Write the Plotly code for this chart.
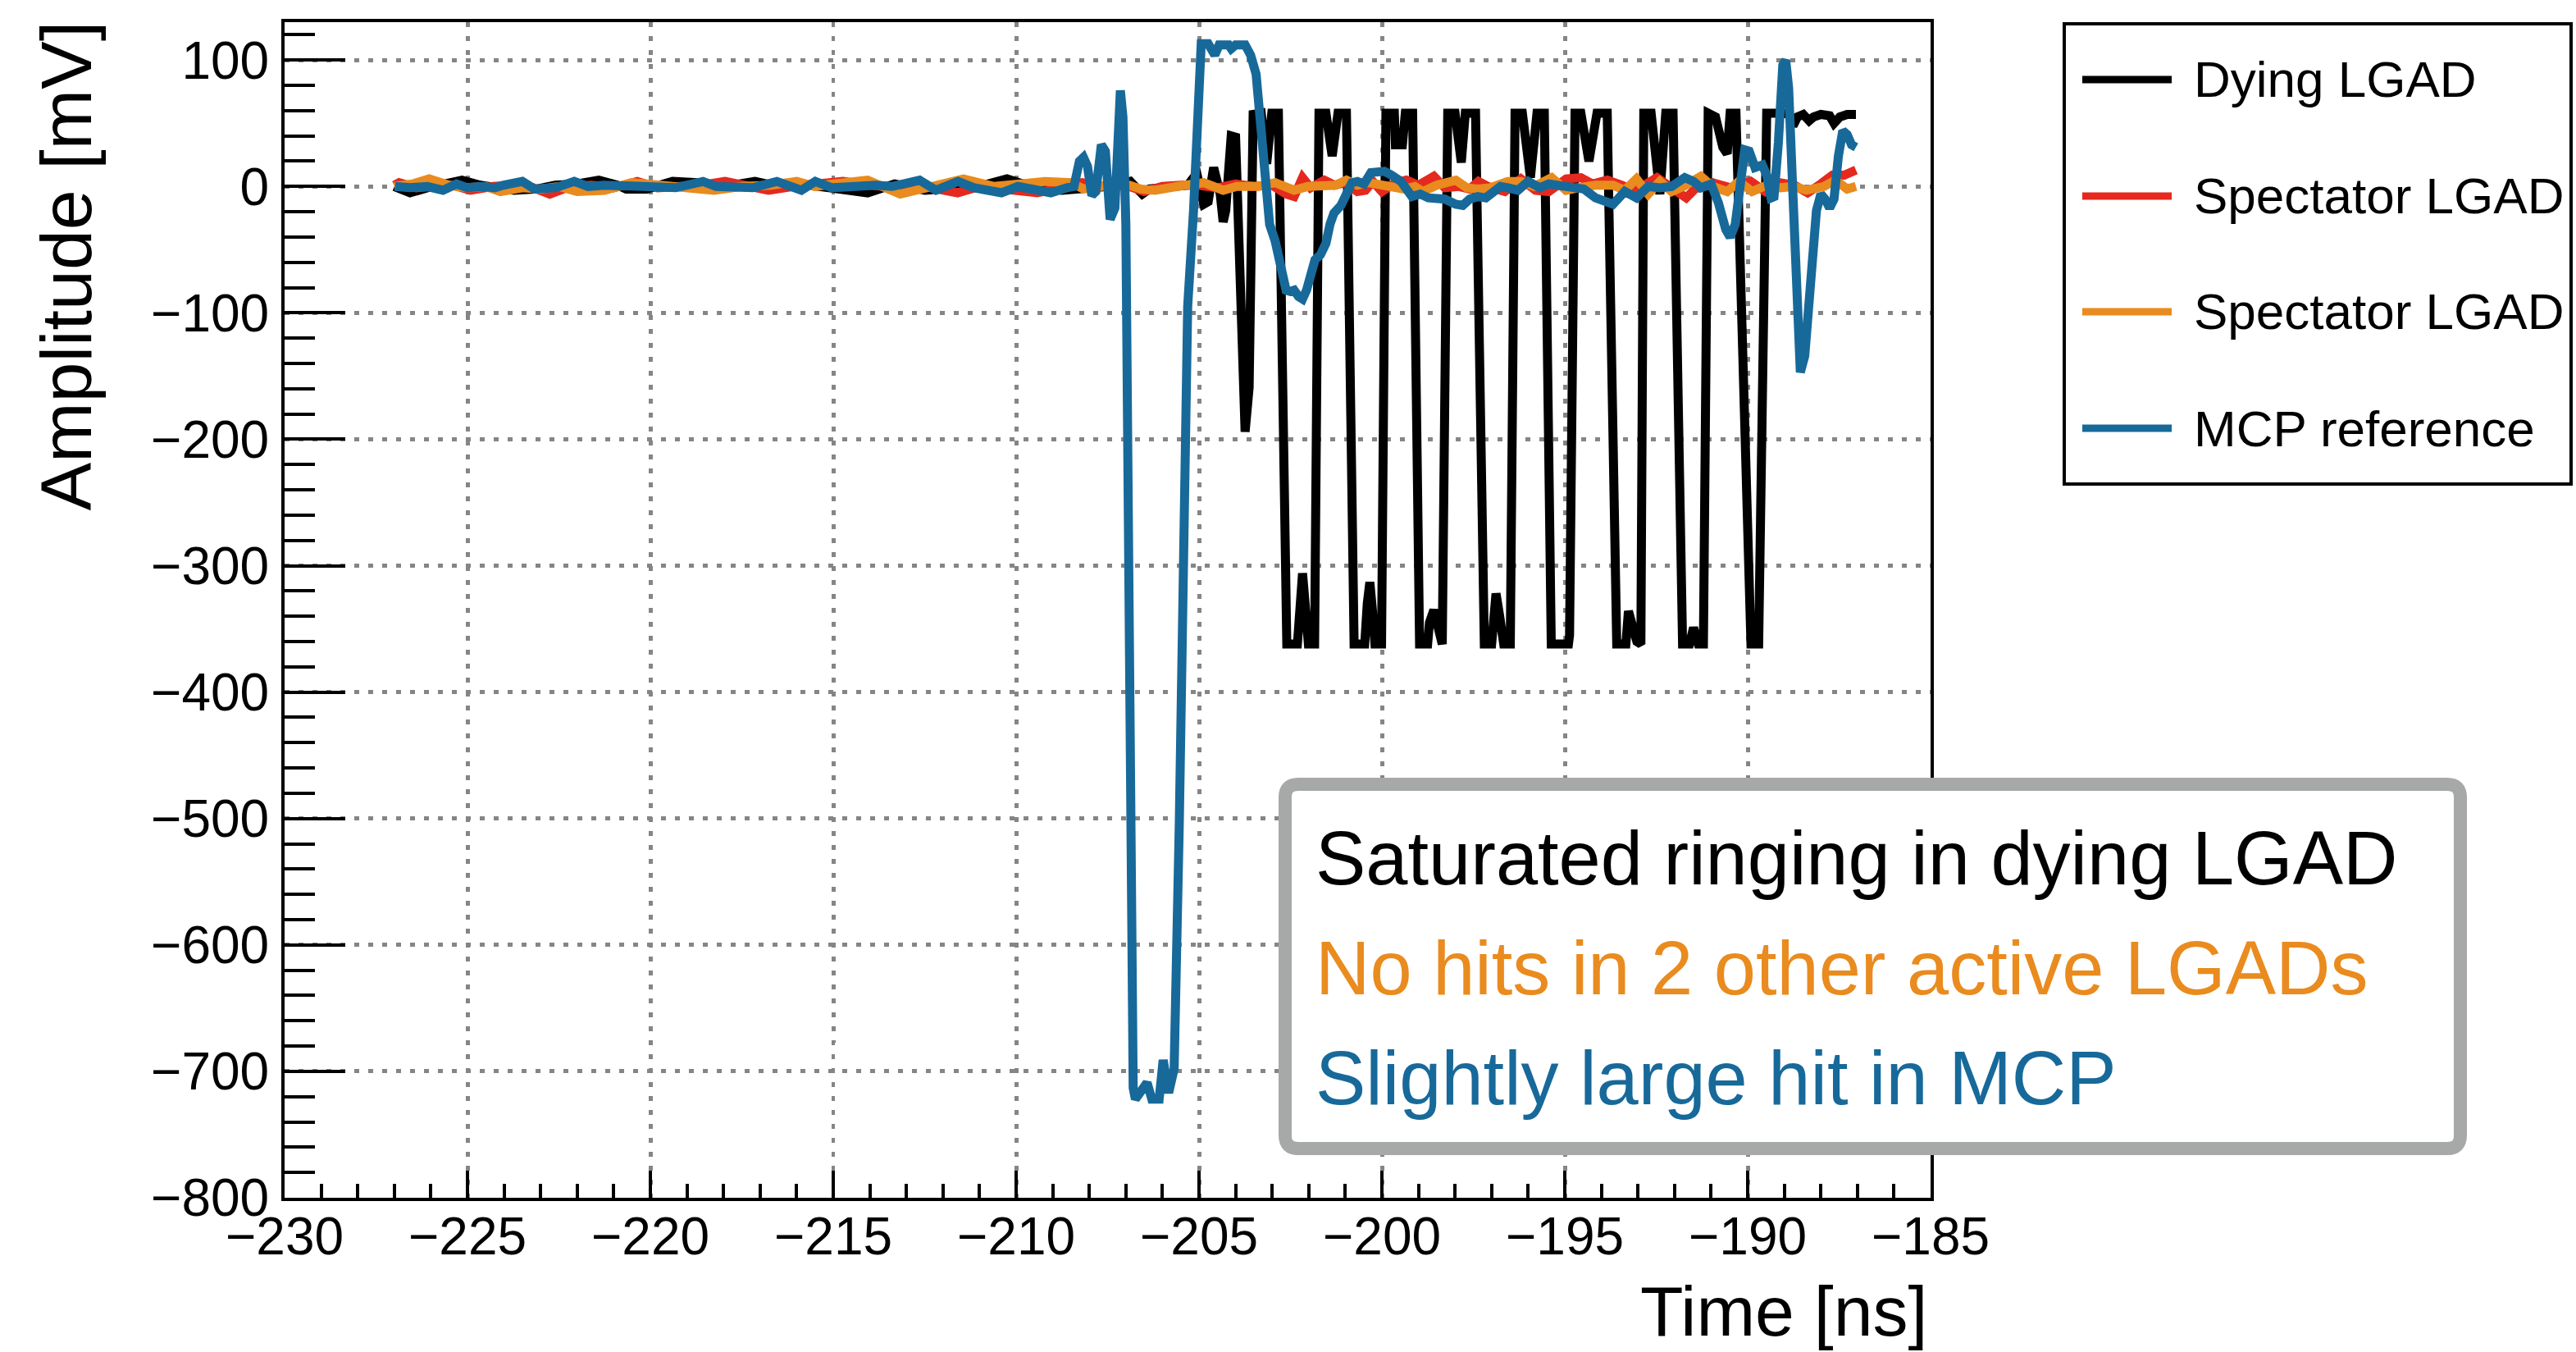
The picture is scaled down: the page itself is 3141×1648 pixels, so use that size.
import plotly.graph_objects as go

# ---------------- data ----------------
BLACK_T = [-227.0, -226.57, -226.1, -225.6, -225.15, -224.65, -224.2, -223.73, -223.1, -222.6,
           -222.0, -221.41, -220.9, -220.66, -220.1, -219.39, -218.7, -218.0, -217.14, -216.5,
           -215.9, -215.3, -214.6, -214.06, -213.32, -212.49, -211.6, -210.9, -210.25, -209.6,
           -208.75, -208.0, -207.5, -206.88, -206.55, -206.36, -205.8, -205.31,
           -205.15, -205.05, -204.87, -204.75, -204.60, -204.42, -204.34, -204.27, -204.12, -204.00,
           -203.74, -203.63, -203.52, -203.30, -203.15, -203.01, -202.83,
           -202.60, -202.31, -202.24, -202.17, -202.10, -202.01, -201.84,
           -201.72, -201.53, -201.36, -201.20, -200.97,
           -200.76, -200.47, -200.40, -200.33, -200.26, -200.19, -200.01,
           -199.89, -199.66, -199.63, -199.44, -199.36, -199.16,
           -198.97, -198.75, -198.70, -198.58, -198.47, -198.35,
           -198.20, -198.00, -197.83, -197.72, -197.44,
           -197.20, -197.00, -196.92, -196.88, -196.78, -196.67, -196.49,
           -196.36, -196.16, -195.94, -195.76, -195.56,
           -195.37, -194.90, -194.87,
           -194.72, -194.56, -194.34, -194.12, -193.84,
           -193.58, -193.33, -193.26, -193.15, -193.03, -192.92,
           -192.84, -192.64, -192.40, -192.24, -192.04,
           -191.78, -191.59, -191.48, -191.35, -191.21,
           -191.08, -190.88, -190.68, -190.56, -190.48, -190.32,
           -189.91, -189.70,
           -189.48, -189.04, -188.88, -188.76, -188.64, -188.48, -188.32, -188.20, -188.00,
           -187.76, -187.64, -187.48, -187.28, -187.04]
BLACK_V = [0, -5, -1, 2, 5, 1, -1, -3, -2, 1,
           2, 5, 1, -2, -2, 4, 3, 0, 4, 0,
           2, 0, -2, -5, 2, -3, -1, 1, 6, 0,
           -3, -1, 0, 4, -6, -2, -1, 1,
           7, 9, -14, -12, 15, -6, -28, -19, 40, 39,
           -194, -159, 57, 58, 18, 58, 58,
           -362, -362, -323, -306, -330, -362, -362,
           58, 58, 24, 58, 58,
           -362, -362, -330, -313, -335, -362, -362,
           58, 58, 33, 33, 58, 58,
           -362, -362, -345, -335, -350, -362,
           58, 58, 19, 58, 58,
           -362, -362, -330, -322, -340, -362, -362,
           58, 58, 7, 58, 58,
           -362, -362, -355,
           58, 58, 20, 58, 58,
           -362, -362, -336, -345, -360, -362,
           58, 58, -6, 58, 58,
           -362, -362, -349, -362, -362,
           58, 55, 31, 26, 58, 58,
           -362, -362,
           58, 58, 57, 48, 55, 57, 52, 55, 57,
           56, 50, 55, 57, 57]

RED_T = [-227.0, -226.87, -226.4, -225.9, -225.4, -224.92, -224.3, -223.7, -223.2, -222.75,
         -222.2, -221.6, -221.0, -220.36, -219.8, -219.2, -218.6, -217.96, -217.3, -216.77,
         -216.1, -215.5, -214.74, -214.0, -213.2, -212.5, -211.6, -211.0, -210.2, -209.42,
         -208.7, -208.2, -207.6, -207.0, -206.5, -206.0, -205.5, -205.0, -204.5, -204.0,
         -203.5, -203.0, -202.62, -202.4, -202.17, -201.95, -201.57, -201.3, -201.0, -200.67,
         -200.45, -200.25, -200.0, -199.63, -199.33, -199.0, -198.58, -198.28, -197.9, -197.6,
         -197.36, -197.1, -196.64, -196.2, -195.8, -195.44, -194.96, -194.56, -194.24, -193.84,
         -193.44, -193.2, -192.88, -192.48, -192.08, -191.68, -191.44, -190.96, -190.48, -189.92,
         -189.52, -189.12, -188.72, -188.36, -188.0, -187.68, -187.36, -187.04]
RED_V = [1, 3, -1, 0, 1, -3, 0, 1, -1, -6,
         0, 1, -1, 4, -1, 0, 1, 4, 0, -3,
         0, 1, 4, 1, -1, 0, -5, 0, -2, -5,
         0, 3, 0, 1, -4, 0, 1, 1, -1, 2,
         0, 1, -6, -8, 7, -1, 5, 1, 3, -4,
         -3, 4, -4, 3, 5, 1, 8, -1, 0, -2,
         4, 0, -4, 6, -3, -4, 6, 7, 2, 5,
         1, -2, 0, 7, -1, -9, -2, 3, -1, 4,
         -4, 3, 1, -5, 2, 9, 9, 13]

ORANGE_T = [-227.0, -226.5, -226.05, -225.5, -225.0, -224.5, -224.1, -223.5, -223.0, -222.5,
            -222.0, -221.26, -220.5, -219.8, -219.1, -218.26, -217.5, -216.7, -216.0, -215.5,
            -215.0, -214.06, -213.17, -212.4, -211.44, -210.6, -209.2, -208.5, -208.16, -207.7,
            -207.33, -206.9, -206.59, -206.21, -205.76, -205.39, -204.87, -204.34, -203.97, -203.4,
            -202.92, -202.62, -202.4, -202.02, -201.72, -201.27, -200.97, -200.67, -200.37, -199.78,
            -199.4, -199.1, -198.88, -198.5, -197.98, -197.68, -197.38, -197.04, -196.56, -196.2,
            -195.84, -195.36, -194.96, -194.64, -194.16, -193.68, -193.36, -193.04, -192.72, -192.4,
            -192.08, -191.76, -191.28, -190.96, -190.56, -190.24, -189.88, -189.48, -189.12, -188.72,
            -188.4, -187.92, -187.6, -187.28, -187.04]
ORANGE_V = [0, 2, 6, 1, -1, 0, -4, -1, -2, 0,
            -4, -3, 3, 1, -1, -3, 0, 1, 4, 0,
            2, 5, -6, 0, 6, 0, 4, 3, -2, 0,
            3, 1, -2, -3, 0, 1, 3, -3, 0, 0,
            3, 0, -3, 0, 0, 1, 5, 1, 3, 1,
            -2, 0, -4, 1, 5, -1, -2, -1, 4, 4,
            0, 7, -3, -1, 1, 1, -3, 6, -6, 4,
            -4, 0, 8, 0, -4, 4, -4, 1, -1, 0,
            -3, 0, 5, -2, 0]

BLUE_T = [-226.98, -226.57, -226.1, -225.67, -225.3, -225.0, -224.6, -224.25, -224.03, -223.5,
          -223.17, -222.6, -222.08, -221.7, -221.26, -220.7, -220.2, -219.31, -218.56, -218.2,
          -217.6, -217.2, -216.54, -216.2, -215.87, -215.49, -215.04, -214.4, -213.84, -213.39,
          -212.64, -212.19, -211.59, -211.15, -210.7, -210.4, -209.95, -209.5, -209.05,
          -208.61, -208.42, -208.27, -208.16, -208.05, -207.93, -207.82, -207.67, -207.56, -207.43,
          -207.30, -207.15, -207.08, -207.00, -206.80, -206.74, -206.42, -206.29, -206.09, -205.98,
          -205.83, -205.68, -205.54, -205.41, -205.31, -205.15, -205.05, -204.94,
          -204.75, -204.66, -204.57, -204.45, -204.19, -204.12, -204.00, -203.74, -203.59, -203.44,
          -203.33, -203.22, -203.14, -203.07, -202.92, -202.77, -202.62, -202.51, -202.40, -202.28,
          -202.17, -202.06, -201.95, -201.83, -201.68, -201.53, -201.42, -201.31, -201.12, -200.97,
          -200.82, -200.67, -200.49, -200.30, -200.15, -199.93, -199.74, -199.48, -199.18, -198.95,
          -198.73, -198.50, -198.28, -197.98, -197.79, -197.60, -197.38,
          -197.16, -196.96, -196.76, -196.56, -196.28, -196.00, -195.68, -195.44, -195.04, -194.72,
          -194.48, -194.16, -193.92, -193.68, -193.36, -193.04, -192.72, -192.40, -192.08, -191.72,
          -191.48, -191.28, -191.00, -190.80, -190.60, -190.48, -190.34, -190.20, -190.08, -189.96,
          -189.80, -189.60, -189.48, -189.36, -189.28, -189.16, -189.04, -188.96, -188.88, -188.76,
          -188.64, -188.56, -188.44, -188.28, -188.12, -188.00, -187.88, -187.76, -187.64, -187.52,
          -187.40, -187.28, -187.16, -187.04]
BLUE_V = [0, -1, 0, -3, 2, -1, 0, -1, 1, 4,
          -2, -1, 4, 0, 1, 1, 0, -1, 4, 0,
          0, -1, 4, 0, -3, 4, -1, 0, 1, 0,
          5, -3, 4, -1, -3, -5, 0, -2, -5,
          -1, 0, 20, 23, 16, -7, -4, 33, 28, -26,
          -17, 76, 55, -30, -713, -722, -709, -722, -722, -691,
          -717, -698, -505, -274, -95, -19, 56, 113,
          113, 108, 104, 112, 112, 109, 112, 112, 104, 89,
          56, 13, -15, -30, -43, -62, -82, -83, -82, -87,
          -89, -82, -67, -58, -54, -45, -30, -21, -15, -6,
          3, 4, 2, 11, 12, 12, 9, 4, -8, -6,
          -9, -10, -10, -14, -15, -10, -8,
          -9, -5, 0, -1, -3, 4, -1, 2, 0, -1,
          -2, -9, -11, -14, -4, -9, 0, -1, 0, 7,
          4, -1, 2, -13, -34, -40, -30, 0, 29, 28,
          15, 17, 9, -9, -8, 35, 96, 100, 78, -8,
          -106, -147, -134, -73, -19, -6, -10, -17, -10, 24,
          44, 41, 33, 31]

SERIES_NAMES = ["Dying LGAD", "Spectator LGAD", "Spectator LGAD", "MCP reference"]
SERIES_COLORS = ["#000000", "#e5291e", "#e98b1e", "#17699a"]
NOTE_LINES = ["Saturated ringing in dying LGAD", "No hits in 2 other active LGADs",
              "Slightly large hit in MCP"]
NOTE_COLORS = ["#000000", "#e98b1e", "#17699a"]
X_RANGE = [-230, -185]
Y_RANGE = [-800, 130]
X_TITLE = "Time [ns]"
Y_TITLE = "Amplitude [mV]"

# ---------------- layout geometry ----------------
W, H = 3141, 1648
L, R, T, B = 347, 2354, 27, 1460
FONT = "Liberation Sans, Arial, Helvetica, sans-serif"
TRACE_WIDTH = 11


def px(xp):
    return (xp - L) / (R - L)


def py(yp):
    return (B - yp) / (B - T)


fig = go.Figure()
series = [(BLACK_T, BLACK_V), (RED_T, RED_V), (ORANGE_T, ORANGE_V), (BLUE_T, BLUE_V)]
for (t, v), name, col in zip(series, SERIES_NAMES, SERIES_COLORS):
    fig.add_trace(go.Scatter(x=t, y=v, mode="lines", name=name,
                             line=dict(color=col, width=TRACE_WIDTH),
                             showlegend=False, hoverinfo="skip"))

axis_common = dict(showline=True, linewidth=4, linecolor="black", mirror=True,
                   ticks="inside", tickwidth=4, tickcolor="black",
                   showgrid=True, gridcolor="#858585", gridwidth=5, griddash="6px,11px",
                   zeroline=False,
                   tickfont=dict(family=FONT, size=64, color="black"))

fig.update_xaxes(range=X_RANGE, tick0=-230, dtick=5, ticklen=33,
                 minor=dict(dtick=1, ticks="inside", ticklen=17, tickwidth=4,
                            tickcolor="black", showgrid=False),
                 ticklabelstandoff=-12, **axis_common)
fig.update_yaxes(range=Y_RANGE, tick0=0, dtick=100, ticklen=74,
                 minor=dict(dtick=20, ticks="inside", ticklen=37, tickwidth=4,
                            tickcolor="black", showgrid=False),
                 ticklabelstandoff=2, **axis_common)

shapes = []
annotations = []

# axis titles
annotations.append(dict(text=Y_TITLE, xref="paper", yref="paper", x=px(80), y=py(24),
                        xanchor="center", yanchor="top", textangle=-90, showarrow=False,
                        font=dict(family=FONT, size=88, color="black")))
annotations.append(dict(text=X_TITLE, xref="paper", yref="paper", x=px(2352), y=py(1598),
                        xanchor="right", yanchor="middle", showarrow=False,
                        font=dict(family=FONT, size=86, color="black")))

# legend (box, line samples, labels)
shapes.append(dict(type="rect", xref="paper", yref="paper", x0=px(2517), x1=px(3135),
                   y0=py(590), y1=py(29), line=dict(color="black", width=4),
                   fillcolor="white", layer="above"))
leg_y = [97, 239, 380, 522]
for yy, name, col in zip(leg_y, SERIES_NAMES, SERIES_COLORS):
    shapes.append(dict(type="line", xref="paper", yref="paper", x0=px(2539), x1=px(2648),
                       y0=py(yy), y1=py(yy), line=dict(color=col, width=9), layer="above"))
    annotations.append(dict(text=name, xref="paper", yref="paper", x=px(2673), y=py(yy),
                            xanchor="left", yanchor="middle", showarrow=False,
                            font=dict(family=FONT, size=62, color="black")))

# note box with rounded corners
bx0, bx1, by0, by1, r = 1567, 3000, 956, 1400, 16


def P(xp, yp):
    return f"{px(xp):.5f},{py(yp):.5f}"


path = (f"M {P(bx0 + r, by0)} L {P(bx1 - r, by0)} Q {P(bx1, by0)} {P(bx1, by0 + r)} "
        f"L {P(bx1, by1 - r)} Q {P(bx1, by1)} {P(bx1 - r, by1)} "
        f"L {P(bx0 + r, by1)} Q {P(bx0, by1)} {P(bx0, by1 - r)} "
        f"L {P(bx0, by0 + r)} Q {P(bx0, by0)} {P(bx0 + r, by0)} Z")
shapes.append(dict(type="path", xref="paper", yref="paper", path=path,
                   line=dict(color="#a6a9a7", width=16), fillcolor="white", layer="above"))
note_y = [1046, 1180, 1314]
for yy, txt, col in zip(note_y, NOTE_LINES, NOTE_COLORS):
    annotations.append(dict(text=txt, xref="paper", yref="paper", x=px(1602), y=py(yy),
                            xanchor="left", yanchor="middle", showarrow=False,
                            font=dict(family=FONT, size=92, color=col)))

fig.update_layout(width=W, height=H, autosize=False,
                  margin=dict(l=L, r=W - R, t=T, b=H - B, pad=0),
                  paper_bgcolor="white", plot_bgcolor="white",
                  shapes=shapes, annotations=annotations, showlegend=False,
                  font=dict(family=FONT, color="black"))

fig.write_html("out.html")
